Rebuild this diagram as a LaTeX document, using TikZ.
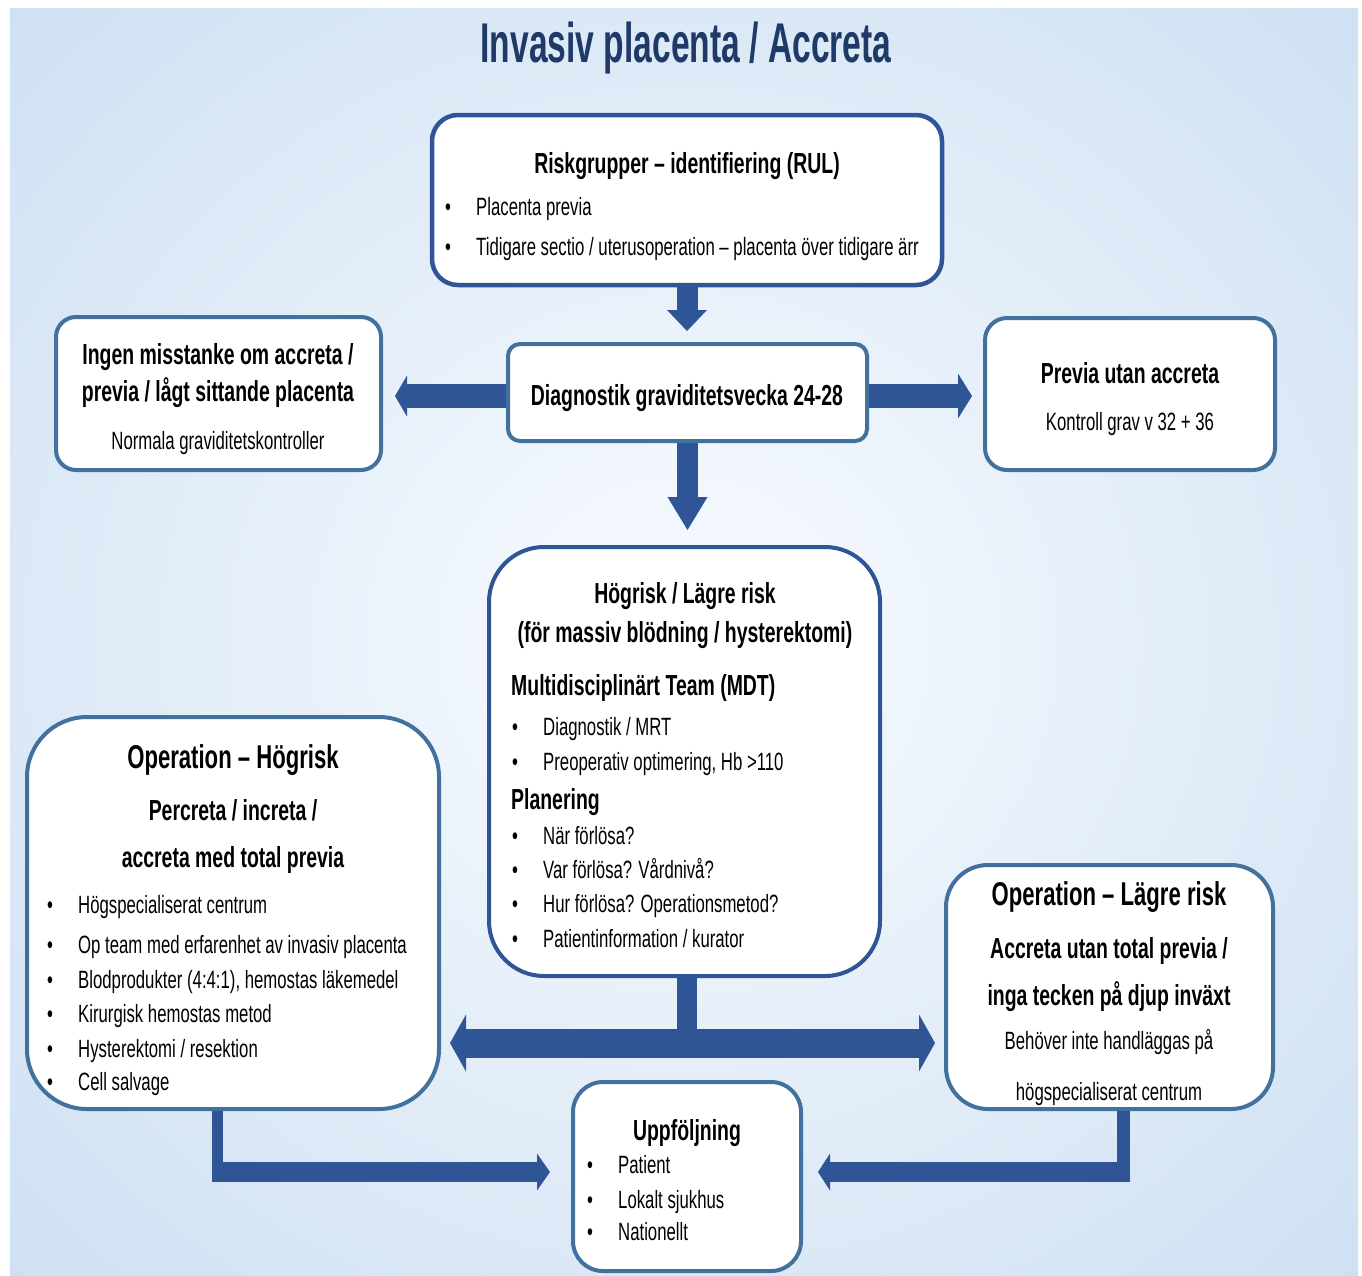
\documentclass[tikz,border=0pt]{standalone}
\usepackage{fontspec}
\setmainfont{Liberation Sans}[FakeStretch=0.67]
\newfontfamily\titlefont{Liberation Sans}[FakeStretch=0.6]
\usetikzlibrary{arrows.meta}
\definecolor{navy}{HTML}{1F3A68}
\definecolor{arrowblue}{HTML}{2F5597}
\definecolor{edgedark}{HTML}{2F5597}
\definecolor{edgesteel}{HTML}{41719C}
\definecolor{bgin}{HTML}{F2F7FD}
\definecolor{bgmid}{HTML}{DCE9F6}
\definecolor{bgedge}{HTML}{BCD5EE}
\definecolor{bgout}{HTML}{B0CDE9}
\pgfdeclareradialshading{bgshade}{\pgfpoint{0bp}{0bp}}{color(0bp)=(bgin); color(6bp)=(bgin); color(24bp)=(bgmid); color(50bp)=(bgedge); color(72bp)=(bgout)}
\newcommand{\bodytxt}{\fontsize{25}{30}\selectfont}
\newcommand{\headtxt}{\fontsize{29}{34}\selectfont\bfseries}
\newcommand{\bigtxt}{\fontsize{33}{38}\selectfont\bfseries}
\newcommand{\titletxt}{\titlefont\fontsize{56}{64}\selectfont\bfseries}
\newcommand{\bul}{\makebox[31pt][l]{•}}
\tikzset{
  box/.style={draw=edgesteel, line width=4pt, fill=white, rounded corners=#1},
  txt/.style={inner sep=0pt, anchor=base},
  item/.style={inner sep=0pt, anchor=base west, font=\bodytxt},
  fat/.style={draw=arrowblue, line width=#1},
}
\begin{document}
\begin{tikzpicture}[x=1pt,y=-1pt]
\useasboundingbox (0,0) rectangle (1362,1275);
\fill[white] (0,0) rectangle (1362,1275);
\shade[shading=bgshade] (10,8) rectangle (1358,1275);
\node[txt, text=navy, font=\titletxt] (title) at (686,62) {Invasiv placenta / Accreta};
% boxes
\node[box=26pt, draw=edgedark, line width=4.5pt, minimum width=510pt, minimum height=170pt] (risk) at (687,200) {};
\node[box=12pt, minimum width=359pt, minimum height=97pt] (diag) at (687.5,392.5) {};
\node[box=20pt, minimum width=325pt, minimum height=153pt] (ingen) at (218.5,393.5) {};
\node[box=22pt, minimum width=290pt, minimum height=152pt] (previa) at (1130,394) {};
\node[box=55pt, draw=edgedark, minimum width=391pt, minimum height=429pt] (hog) at (684.5,761.5) {};
\node[box=60pt, minimum width=412pt, minimum height=392pt] (oph) at (233,913) {};
\node[box=42pt, minimum width=327pt, minimum height=244pt] (opl) at (1109.5,987) {};
\node[box=30pt, minimum width=228pt, minimum height=189pt] (upp) at (687,1176.5) {};
% texts
\node[txt, font=\headtxt] (riskh) at (687,173) {Riskgrupper – identifiering (RUL)};
\node[item] (risk1) at (445,215) {\bul Placenta previa};
\node[item] (risk2) at (445,255) {\bul Tidigare sectio / uterusoperation – placenta över tidigare ärr};
\node[txt, font=\headtxt] (diagh) at (687,405) {Diagnostik graviditetsvecka 24-28};
\node[txt, font=\headtxt] (ingen1) at (218,364) {Ingen misstanke om accreta /};
\node[txt, font=\headtxt] (ingen2) at (218,401) {previa / lågt sittande placenta};
\node[txt, font=\bodytxt] (ingen3) at (218,449) {Normala graviditetskontroller};
\node[txt, font=\headtxt] (previa1) at (1130,383) {Previa utan accreta};
\node[txt, font=\bodytxt] (previa2) at (1130,430) {Kontroll grav v 32 + 36};
\node[txt, font=\headtxt] (hog1) at (685,603) {Högrisk / Lägre risk};
\node[txt, font=\headtxt] (hog2) at (685,642) {(för massiv blödning / hysterektomi)};
\node[txt, anchor=base west, font=\headtxt] (mdt) at (511,695) {Multidisciplinärt Team (MDT)};
\node[item] (mdt1) at (512,735) {\bul Diagnostik / MRT};
\node[item] (mdt2) at (512,770) {\bul Preoperativ optimering, Hb >110};
\node[txt, anchor=base west, font=\headtxt] (plan) at (511,809) {Planering};
\node[item] (plan1) at (512,844) {\bul När förlösa?};
\node[item] (plan2) at (512,878) {\bul Var förlösa? Vårdnivå?};
\node[item] (plan3) at (512,912) {\bul Hur förlösa? Operationsmetod?};
\node[item] (plan4) at (512,947) {\bul Patientinformation / kurator};
\node[txt, font=\bigtxt] (oph1) at (233,768) {Operation – Högrisk};
\node[txt, font=\headtxt] (oph2) at (233,820) {Percreta / increta /};
\node[txt, font=\headtxt] (oph3) at (233,867) {accreta med total previa};
\node[item] (oph4) at (47,913) {\bul Högspecialiserat centrum};
\node[item] (oph5) at (47,953) {\bul Op team med erfarenhet av invasiv placenta};
\node[item] (oph6) at (47,988) {\bul Blodprodukter (4:4:1), hemostas läkemedel};
\node[item] (oph7) at (47,1022) {\bul Kirurgisk hemostas metod};
\node[item] (oph8) at (47,1057) {\bul Hysterektomi / resektion};
\node[item] (oph9) at (47,1090) {\bul Cell salvage};
\node[txt, font=\bigtxt] (opl1) at (1109,905) {Operation – Lägre risk};
\node[txt, font=\headtxt] (opl2) at (1109,958) {Accreta utan total previa /};
\node[txt, font=\headtxt] (opl3) at (1109,1005) {inga tecken på djup inväxt};
\node[txt, font=\bodytxt] (opl4) at (1109,1049) {Behöver inte handläggas på};
\node[txt, font=\bodytxt] (opl5) at (1109,1100) {högspecialiserat centrum};
\node[txt, font=\headtxt] (upph) at (687,1140) {Uppföljning};
\node[item] (upp1) at (587,1173) {\bul Patient};
\node[item] (upp2) at (587,1208) {\bul Lokalt sjukhus};
\node[item] (upp3) at (587,1240) {\bul Nationellt};
% arrows
\coordinate (dl) at (506,396);\coordinate (dr) at (869,396);
\coordinate (tj) at (687,1043);
\coordinate (lb) at (212,1172);\coordinate (lstem) at (217.5,1182);
\coordinate (rb) at (1130,1172);\coordinate (rstem) at (1123.5,1182);
\draw[fat=21pt, -{Triangle[length=21pt,width=40pt,line width=0pt]}, shorten >=11pt] (risk.south) -- (risk.south |- diag.north);
\draw[fat=21pt, -{Triangle[length=33pt,width=40pt,line width=0pt]}, shorten >=15pt] (diag.south) -- (diag.south |- hog.north);
\draw[fat=24pt, -{Triangle[length=12pt,width=41pt,line width=0pt]}, shorten >=12pt] (dl) -- (dl -| ingen.east);
\draw[fat=24pt, -{Triangle[length=14pt,width=45pt,line width=0pt]}, shorten >=11pt] (dr) -- (dr -| previa.west);
\draw[fat=20pt] (tj |- hog.south) -- (tj);
\draw[fat=29pt, {Triangle[length=16pt,width=57pt,line width=0pt]}-{Triangle[length=16pt,width=57pt,line width=0pt]}, shorten <=9pt, shorten >=9pt] (tj -| oph.east) -- (tj -| opl.west);
\draw[fat=11pt] (lstem |- oph.south) -- (lstem);
\draw[fat=20pt, -{Triangle[length=13pt,width=37pt,line width=0pt]}, shorten >=21pt] (lb) -- (lb -| upp.west);
\draw[fat=13pt] (rstem |- opl.south) -- (rstem);
\draw[fat=20pt, -{Triangle[length=12pt,width=37pt,line width=0pt]}, shorten >=15pt] (rb) -- (rb -| upp.east);
\end{tikzpicture}
\end{document}
